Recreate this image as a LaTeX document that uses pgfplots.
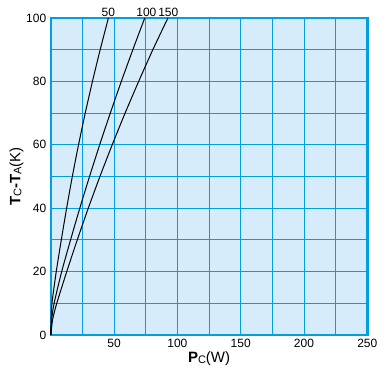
\documentclass[border=0pt]{standalone}
\usepackage{pgfplots}
\pgfplotsset{compat=1.18}
\usepackage{fontspec}
\setmainfont{Liberation Sans}
\definecolor{bgblue}{RGB}{214,236,250}
\definecolor{gridblue}{RGB}{0,158,226}
\begin{document}
\begin{tikzpicture}
\useasboundingbox (-50.8pt,-46pt) rectangle (339.2pt,335pt);
\begin{axis}[
  at={(0pt,0pt)}, anchor=south west,
  scale only axis, width=316.5pt, height=317pt,
  xmin=0, xmax=250, ymin=0, ymax=100,
  axis background/.style={fill=bgblue},
  axis line style={gridblue, line width=2.4pt},
  xtick={50,100,...,250}, ytick={0,20,...,100},
  minor xtick={25,75,...,225}, minor ytick={10,30,...,90},
  grid=both,
  major grid style={gridblue, line width=1pt},
  minor grid style={gridblue, line width=1pt},
  tick style={draw=none},
  ticklabel style={font=\fontsize{12}{14}\selectfont},
  /pgf/number format/assume math mode=true,
  xticklabel style={yshift=-1pt},
  yticklabel style={xshift=-1pt},
  xlabel={\fontsize{15}{17}\selectfont\textbf{P}\raisebox{-0.15ex}{\fontsize{11}{12}\selectfont C}(W)},
  ylabel={\fontsize{15}{17}\selectfont\textbf{T}\raisebox{-0.15ex}{\fontsize{11}{12}\selectfont C}\textbf{-T}\raisebox{-0.15ex}{\fontsize{11}{12}\selectfont A}(K)},
  xlabel style={yshift=3pt},
  ylabel style={yshift=-4pt},
  clip=false,
]
\addplot[black, line width=1pt, smooth, tension=0.4] coordinates {
 (0,0) (0.3,5) (0.9,10) (4.3,20) (8.3,30) (12.5,40) (17.0,50) (21.9,60) (27.2,70) (32.9,80) (39.0,90) (45.5,100)};
\addplot[black, line width=1pt, smooth, tension=0.4] coordinates {
 (0,0) (0.7,5) (2.6,10) (8.6,20) (15.6,30) (22.9,40) (30.6,50) (38.6,60) (47.0,70) (55.7,80) (64.8,90) (74.2,100)};
\addplot[black, line width=1pt, smooth, tension=0.4] coordinates {
 (0,0) (1.5,5) (4.7,10) (12.6,20) (20.9,30) (29.6,40) (38.8,50) (48.5,60) (58.7,70) (69.4,80) (80.6,90) (92.5,100)};
\node[anchor=south, font=\fontsize{12}{14}\selectfont, inner sep=1pt] at (axis cs:45.5,100) {50};
\node[anchor=south, font=\fontsize{12}{14}\selectfont, inner sep=1pt] at (axis cs:75.5,100) {100};
\node[anchor=south, font=\fontsize{12}{14}\selectfont, inner sep=1pt] at (axis cs:92.8,100) {150};
\end{axis}
\end{tikzpicture}
\end{document}
